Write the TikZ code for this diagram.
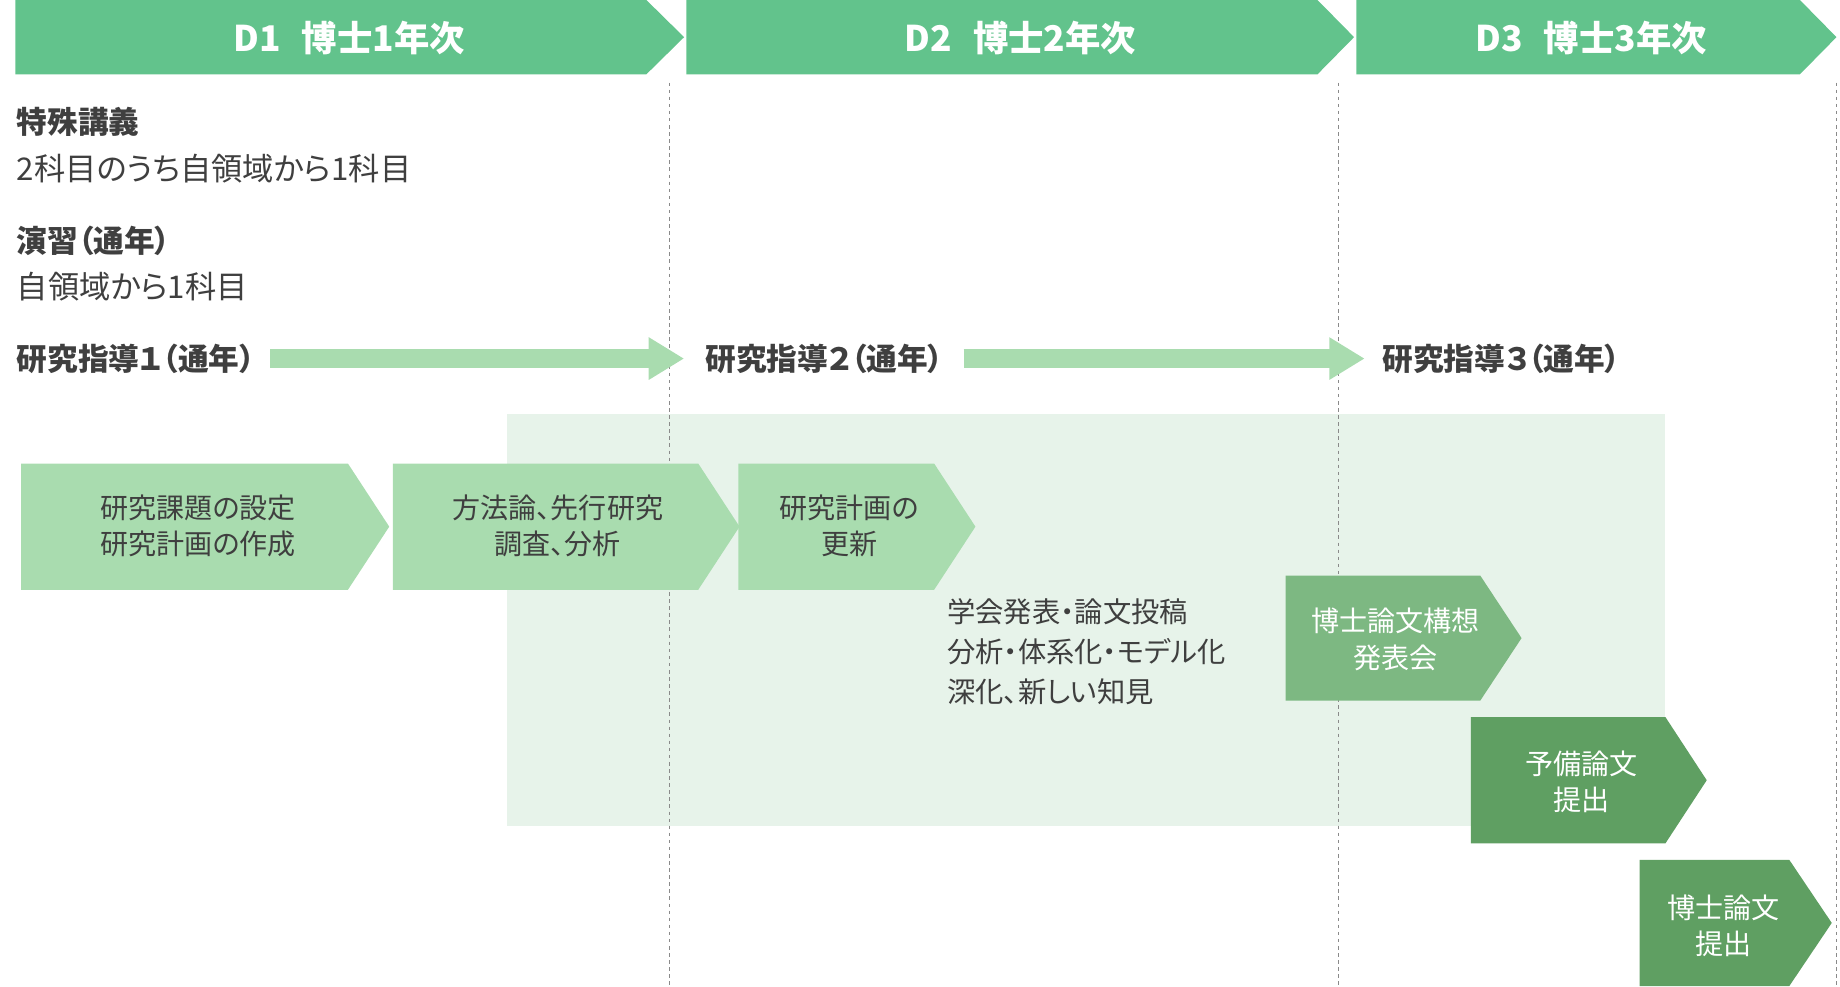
\documentclass[tikz,border=0pt]{standalone}
\usepackage{fontspec}
\setmainfont{Noto Sans CJK JP}[RawFeature=+palt]
\usetikzlibrary{arrows.meta}
\definecolor{hdrgreen}{HTML}{62C38C}
\definecolor{lightgreen}{HTML}{A9DCAF}
\definecolor{bandgreen}{HTML}{E7F3EA}
\definecolor{midgreen}{HTML}{7DB882}
\definecolor{darkgreen}{HTML}{5F9F62}
\definecolor{txt}{HTML}{3F3F3F}
\definecolor{dashgray}{HTML}{8A8A8A}
\tikzset{
  hdrtext/.style={text=white, inner sep=0pt, font=\bfseries\fontsize{30}{34}\selectfont},
  headtext/.style={text=txt, anchor=west, inner sep=0pt, font=\bfseries\fontsize{26}{30}\selectfont},
  plaintext/.style={text=txt, anchor=west, inner sep=0pt, font=\fontsize{26.5}{30}\selectfont},
  boxtext/.style={text=txt, align=center, inner sep=0pt, font=\fontsize{23.8}{31}\selectfont},
  whitebox/.style={text=white, align=center, inner sep=0pt, font=\fontsize{23.8}{31}\selectfont},
  notetext/.style={text=txt, align=left, anchor=north west, inner sep=0pt, font=\fontsize{24}{34}\selectfont},
  fatarrow/.style={draw=lightgreen, line width=16pt, -{Triangle[length=30pt,width=34pt]}},
  yearline/.style={draw=dashgray, line width=0.9pt, dash pattern=on 3pt off 3pt}
}
\begin{document}
\begin{tikzpicture}[x=1pt,y=-1pt]
\useasboundingbox (0,0) rectangle (1560,836);
% header bars
\fill[hdrgreen] (13,0) -- (548,0) -- (580,31.5) -- (548,63) -- (13,63) -- cycle;
\fill[hdrgreen] (582,0) -- (1117,0) -- (1148,31.5) -- (1117,63) -- (582,63) -- cycle;
\fill[hdrgreen] (1150,0) -- (1526,0) -- (1557,31.5) -- (1526,63) -- (1150,63) -- cycle;
\node[hdrtext] (h1) at (296,32) {D1\hspace{0.6em}博士1年次};
\node[hdrtext] (h2) at (865,32) {D2\hspace{0.6em}博士2年次};
\node[hdrtext] (h3) at (1349,32) {D3\hspace{0.6em}博士3年次};
% background band
\fill[bandgreen] (430,351) rectangle (1412,700);
% year separators
\draw[yearline] (568,70) -- (568,836);
\draw[yearline] (1135,70) -- (1135,836);
\draw[yearline] (1557,70) -- (1557,836);
% left texts
\node[headtext] (t1) at (14,103) {特殊講義};
\node[plaintext] (t2) at (14,143) {2科目のうち自領域から1科目};
\node[headtext] (t3) at (14,204) {演習（通年）};
\node[plaintext] (t4) at (14,243) {自領域から1科目};
\node[headtext] (s1) at (14,304) {研究指導１（通年）};
\node[headtext] (s2) at (598,304) {研究指導２（通年）};
\node[headtext] (s3) at (1172,304) {研究指導３（通年）};
\coordinate (a1s) at (229,304);
\coordinate (a1e) at (580,304);
\coordinate (a2s) at (817,304);
\coordinate (a2e) at (1157,304);
\draw[fatarrow] (a1s) -- (a1e);
\draw[fatarrow] (a2s) -- (a2e);
% chevrons
\fill[lightgreen] (18,393) -- (295,393) -- (330,446.5) -- (295,500) -- (18,500) -- cycle;
\fill[lightgreen] (333,393) -- (592,393) -- (627,446.5) -- (592,500) -- (333,500) -- cycle;
\fill[lightgreen] (626,393) -- (792,393) -- (827,446.5) -- (792,500) -- (626,500) -- cycle;
\fill[midgreen] (1090,488) -- (1255,488) -- (1290,541) -- (1255,594) -- (1090,594) -- cycle;
\fill[darkgreen] (1247,608) -- (1412,608) -- (1447,661.5) -- (1412,715) -- (1247,715) -- cycle;
\fill[darkgreen] (1390,729) -- (1517,729) -- (1553,782.5) -- (1517,836) -- (1390,836) -- cycle;
\node[boxtext] (b1) at (168,446) {研究課題の設定\\研究計画の作成};
\node[boxtext] (b2) at (473,446) {方法論、先行研究\\調査、分析};
\node[boxtext] (b3) at (720,446) {研究計画の\\更新};
\node[notetext] (n1) at (803,507) {学会発表・論文投稿\\分析・体系化・モデル化\\深化、新しい知見};
\node[whitebox] (b4) at (1183,542) {博士論文構想\\発表会};
\node[whitebox] (b5) at (1341,663) {予備論文\\提出};
\node[whitebox] (b6) at (1461,785) {博士論文\\提出};
\end{tikzpicture}
\end{document}
